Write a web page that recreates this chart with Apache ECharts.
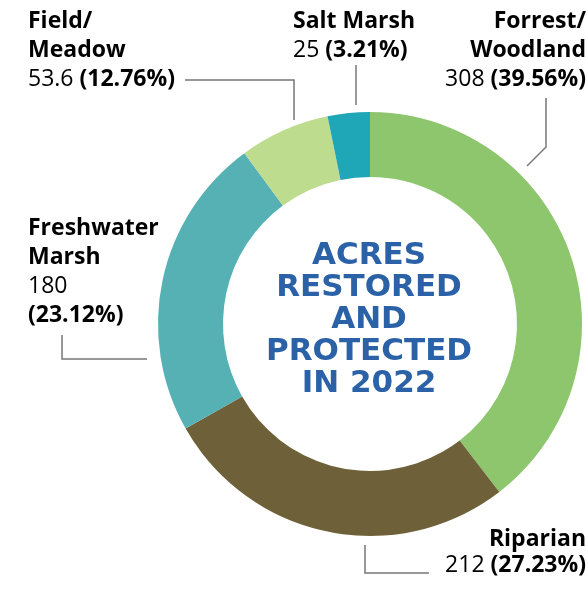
<!DOCTYPE html>
<html>
<head>
<meta charset="utf-8">
<script src="https://cdn.jsdelivr.net/npm/echarts@6/dist/echarts.min.js"></script>
<style>
	html, body { margin: 0; padding: 0; background: #fff; }
	#chart { width: 588px; height: 589px; }
</style>
</head>
<body>
<div id="chart"></div>
<script>
// 数据
var names = ['Forrest/\nWoodland', 'Riparian', 'Freshwater\nMarsh', 'Field/\nMeadow', 'Salt Marsh'];
var acres = [308, 212, 180, 53.6, 25];
// 图上标注的百分比（原图文字）
var pctLabels = ['39.56%', '27.23%', '23.12%', '12.76%', '3.21%'];
var colors = ['#8dc66c', '#6e6139', '#55b1b4', '#bddc8e', '#1fa6b7'];
var titleLines = ['ACRES', 'RESTORED', 'AND', 'PROTECTED', 'IN 2022'];

(function() {
	var myChart = echarts.init(document.getElementById('chart'));

	var rich = {
		b: { fontFamily: '"Open Sans"', fontWeight: 'bold', fontSize: 23, color: '#222', lineHeight: 29 },
		n: { fontFamily: '"Open Sans"', fontWeight: 'normal', fontSize: 23, color: '#3a3a3a', lineHeight: 29, padding: [0, 6, 0, 0] }
	};
	function nameRich(i) {
		return names[i].split('\n').map(function(s) { return '{b|' + s + '}'; }).join('\n');
	}
	// 标签文字（位置 + 换行方式）
	var labelSpec = [
		{ x: 586, y: 7, align: 'right', text: nameRich(0) + '\n{n|' + acres[0] + '}{b|(' + pctLabels[0] + ')}' },
		{ x: 586, y: 526, align: 'right', lh: 26, text: nameRich(1) + '\n{n|' + acres[1] + '}{b|(' + pctLabels[1] + ')}' },
		{ x: 28, y: 214, align: 'left', text: nameRich(2) + '\n{n|' + acres[2] + '}\n{b|(' + pctLabels[2] + ')}' },
		{ x: 28, y: 7, align: 'left', text: nameRich(3) + '\n{n|' + acres[3] + '}{b|(' + pctLabels[3] + ')}' },
		{ x: 293, y: 7, align: 'left', text: nameRich(4) + '\n{n|' + acres[4] + '}{b|(' + pctLabels[4] + ')}' }
	];
	// 引导线
	var leaderLines = [
		[[546, 98], [546, 147], [527, 166]],
		[[365, 545], [365, 573], [429, 573]],
		[[62, 335], [62, 359], [147, 359]],
		[[185, 80], [294, 80], [294, 120]],
		[[356, 65], [356, 105]]
	];

	var graphics = [];
	labelSpec.forEach(function(s) {
		var r = rich;
		if (s.lh) {
			r = {
				b: Object.assign({}, rich.b, { lineHeight: s.lh }),
				n: Object.assign({}, rich.n, { lineHeight: s.lh })
			};
		}
		graphics.push({
			type: 'text',
			x: s.x,
			y: s.y,
			style: { text: s.text, rich: r, align: s.align, verticalAlign: 'top' }
		});
	});
	leaderLines.forEach(function(pts) {
		graphics.push({
			type: 'polyline',
			shape: { points: pts },
			style: { stroke: '#777', lineWidth: 1.5, fill: null }
		});
	});

	var option = {
		animation: false,
		title: {
			text: titleLines.join('\n'),
			left: 364,
			top: 235,
			textAlign: 'center',
			textStyle: {
				fontFamily: '"DejaVu Sans"',
				fontWeight: 'bold',
				fontSize: 31,
				lineHeight: 32,
				color: '#2b62a7'
			}
		},
		graphic: graphics,
		series: [{
			type: 'pie',
			radius: [147, 212],
			center: [370, 324],
			startAngle: 90,
			clockwise: true,
			label: { show: false },
			labelLine: { show: false },
			data: acres.map(function(v, i) {
				return { value: v, name: names[i], itemStyle: { color: colors[i] } };
			})
		}]
	};
	myChart.setOption(option);
	window.addEventListener('resize', function() {
		myChart.resize();
	});
})();
</script>
</body>
</html>
